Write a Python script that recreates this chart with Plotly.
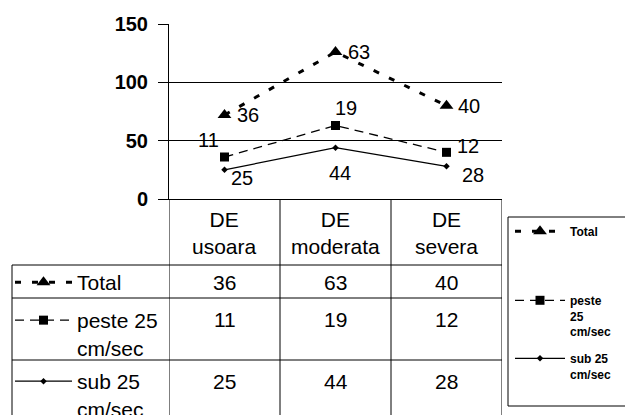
import plotly.graph_objects as go

# ---------------- data ----------------
categories = ["DE usoara", "DE moderata", "DE severa"]
total = [36, 63, 40]
peste = [11, 19, 12]
sub = [25, 44, 28]
series_names = ["Total", "peste 25 cm/sec", "sub 25 cm/sec"]
y_ticks = [0, 50, 100, 150]

# stacked line chart (values are stacked, labels show raw values)
sub_stack = list(sub)
peste_stack = [a + b for a, b in zip(sub_stack, peste)]
total_stack = [a + b for a, b in zip(peste_stack, total)]

FONT = "Liberation Sans, Arial, sans-serif"
W, H = 625, 415
ML, MR, MT, MB = 169, 123, 24, 216
PW, PH = W - ML - MR, H - MT - MB


def px2x(px):
    return (px - ML) / PW


def py2y(py):
    return (H - MB - py) / PH


styles = {
    "Total": dict(line=dict(color="black", width=3, dash="6px,11px"),
                  marker=dict(symbol="triangle-up", size=12, color="black")),
    "peste 25 cm/sec": dict(line=dict(color="black", width=1.3, dash="9px,6px"),
                            marker=dict(symbol="square", size=9, color="black")),
    "sub 25 cm/sec": dict(line=dict(color="black", width=1.2),
                          marker=dict(symbol="diamond", size=5, color="black")),
}
# data-label offsets (pixels) relative to each point, per series
label_offsets = {
    "Total": [(23, 0), (23, 0), (22, 0)],
    "peste 25 cm/sec": [(-16, 17), (10, 18), (21, 6)],
    "sub 25 cm/sec": [(17, -8), (4, -25), (26, -9)],
}

fig = go.Figure()

series = [
    ("Total", total_stack, total),
    ("peste 25 cm/sec", peste_stack, peste),
    ("sub 25 cm/sec", sub_stack, sub),
]

box_names = {"Total": "Total", "peste 25 cm/sec": "peste<br>25<br>cm/sec",
             "sub 25 cm/sec": "sub 25<br>cm/sec"}
table_names = {"Total": "Total", "peste 25 cm/sec": "peste 25<br>cm/sec",
               "sub 25 cm/sec": "sub 25<br>cm/sec"}
box_legends = {"Total": "legend", "peste 25 cm/sec": "legend2", "sub 25 cm/sec": "legend3"}
table_legends = {"Total": "legend4", "peste 25 cm/sec": "legend5", "sub 25 cm/sec": "legend6"}

annotations = []
for name, ys, labels in series:
    st = styles[name]
    fig.add_trace(go.Scatter(
        x=categories, y=ys, mode="lines+markers", name=box_names[name],
        line=st["line"], marker=st["marker"], legend=box_legends[name],
        hoverinfo="skip", cliponaxis=False,
    ))
    # legend key inside the data table
    fig.add_trace(go.Scatter(
        x=[None], y=[None], mode="lines+markers", name=table_names[name],
        line=st["line"], marker=st["marker"], legend=table_legends[name],
        hoverinfo="skip",
    ))
    for c, yv, lab, (dx, dy) in zip(categories, ys, labels, label_offsets[name]):
        annotations.append(dict(x=c, y=yv, xref="x", yref="y", text=str(lab),
                                showarrow=False, xanchor="center", yanchor="middle",
                                xshift=dx, yshift=dy,
                                font=dict(family=FONT, size=20, color="black")))

# ---------------- data table ----------------
shapes = []
bottom = py2y(H + 10)
for i in range(len(categories) + 1):
    shapes.append(dict(type="line", xref="x", yref="paper", x0=i - 0.5, x1=i - 0.5,
                       y0=bottom, y1=0, line=dict(color="black", width=1)))
for py in [265, 298, 360]:
    shapes.append(dict(type="line", xref="paper", yref="paper", x0=px2x(12), x1=px2x(502),
                       y0=py2y(py), y1=py2y(py), line=dict(color="black", width=1)))
shapes.append(dict(type="line", xref="paper", yref="paper", x0=px2x(12), x1=px2x(12),
                   y0=bottom, y1=py2y(265), line=dict(color="black", width=1)))
# legend box
shapes.append(dict(type="rect", xref="paper", yref="paper", x0=px2x(508), x1=px2x(650),
                   y0=py2y(406), y1=py2y(217), line=dict(color="black", width=1)))

for i, c in enumerate(categories):
    annotations.append(dict(x=c, xref="x", y=py2y(233), yref="paper",
                            xanchor="center", yanchor="middle",
                            text=c.replace(" ", "<br>", 1), showarrow=False,
                            font=dict(family=FONT, size=21, color="black")))
row_y = [282, 319, 381]
for vals, ry in zip([total, peste, sub], row_y):
    for c, v in zip(categories, vals):
        annotations.append(dict(x=c, xref="x", y=py2y(ry), yref="paper", text=str(v),
                                xanchor="center", yanchor="middle",
                                showarrow=False, font=dict(family=FONT, size=21, color="black")))


def leg(xpx, ypx, size, bold, width):
    return dict(x=px2x(xpx), y=py2y(ypx), xanchor="left", yanchor="top",
                bgcolor="rgba(0,0,0,0)", borderwidth=0, valign="top",
                itemwidth=width, itemclick=False, itemdoubleclick=False,
                font=dict(family=FONT, size=size, color="black",
                          weight="bold" if bold else "normal"))


fig.update_layout(
    width=W, height=H,
    margin=dict(l=ML, r=MR, t=MT, b=MB, pad=0, autoexpand=False),
    paper_bgcolor="white", plot_bgcolor="white",
    showlegend=True,
    font=dict(family=FONT, color="black"),
    xaxis=dict(type="category", categoryarray=categories, range=[-0.5, 2.5],
               showticklabels=False, ticks="", showgrid=False, zeroline=False,
               showline=True, linecolor="black", linewidth=1, fixedrange=True),
    yaxis=dict(range=[0, 150], tickvals=y_ticks, ticks="outside", ticklen=10,
               tickcolor="black", showgrid=True, gridcolor="black", gridwidth=1,
               zeroline=False, showline=True, linecolor="black", linewidth=1,
               ticklabelstandoff=6,
               tickfont=dict(family=FONT, size=20, color="black", weight="bold"),
               fixedrange=True),
    shapes=shapes,
    annotations=annotations,
    legend=leg(510, 217, 12, True, 50),
    legend2=leg(510, 286, 12, True, 50),
    legend3=leg(510, 344, 12, True, 50),
    legend4=leg(10, 262, 21, False, 57),
    legend5=leg(10, 300, 21, False, 57),
    legend6=leg(10, 361, 21, False, 57),
)

fig.write_html("out.html", config={"displayModeBar": False},
               post_script="document.body.style.margin='0';document.body.style.overflow='hidden';")
